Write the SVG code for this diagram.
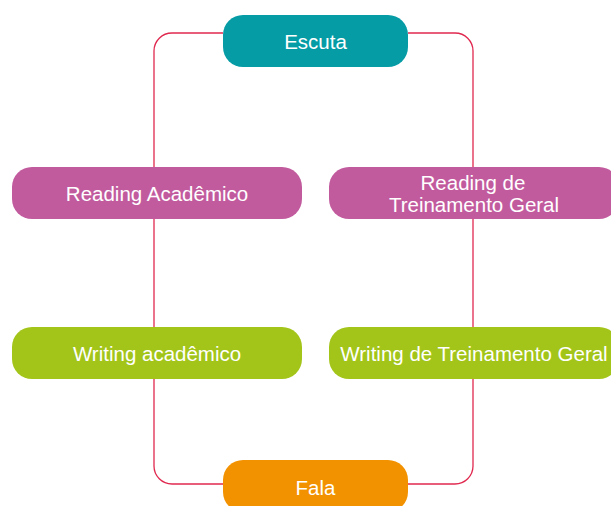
<svg xmlns="http://www.w3.org/2000/svg" width="611" height="506" viewBox="0 0 611 506">
<style>
.lbl{font-family:"Liberation Sans",Arial,sans-serif;font-size:20.5px;fill:#ffffff;text-anchor:middle}
.con{fill:none;stroke:#e0284f;stroke-width:1.3}
.teal{fill:#059ca6}
.mag{fill:#c25b9e}
.grn{fill:#a3c519}
.org{fill:#f29200}
</style>
<rect width="611" height="506" fill="#ffffff"/>
<g id="connectors">
<path class="con" d="M223,33 H172 A18,18 0 0 0 154,51 V167"/>
<path class="con" d="M154,219 V327"/>
<path class="con" d="M154,379 V466 A18,18 0 0 0 172,484 H223"/>
<path class="con" d="M408,33 H455 A18,18 0 0 1 473,51 V167"/>
<path class="con" d="M473,219 V327"/>
<path class="con" d="M473,379 V466 A18,18 0 0 1 455,484 H408"/>
</g>
<g id="escuta">
<rect class="teal" x="223" y="15" width="185" height="52" rx="20"/>
<text class="lbl" x="315.5" y="48.5">Escuta</text>
</g>
<g id="reading-academico">
<rect class="mag" x="12" y="167" width="290" height="52" rx="20"/>
<text class="lbl" x="157" y="200.5">Reading Acadêmico</text>
</g>
<g id="reading-treinamento">
<rect class="mag" x="329" y="167" width="290" height="52" rx="20"/>
<text class="lbl" x="473" y="189.5">Reading de</text>
<text class="lbl" x="474" y="212">Treinamento Geral</text>
</g>
<g id="writing-academico">
<rect class="grn" x="12" y="327" width="290" height="52" rx="20"/>
<text class="lbl" x="157" y="360.5">Writing acadêmico</text>
</g>
<g id="writing-treinamento">
<rect class="grn" x="329" y="327" width="290" height="52" rx="20"/>
<text class="lbl" x="474" y="360.5">Writing de Treinamento Geral</text>
</g>
<g id="fala">
<rect class="org" x="223" y="460" width="185" height="52" rx="20"/>
<text class="lbl" x="315.5" y="495">Fala</text>
</g>
</svg>
